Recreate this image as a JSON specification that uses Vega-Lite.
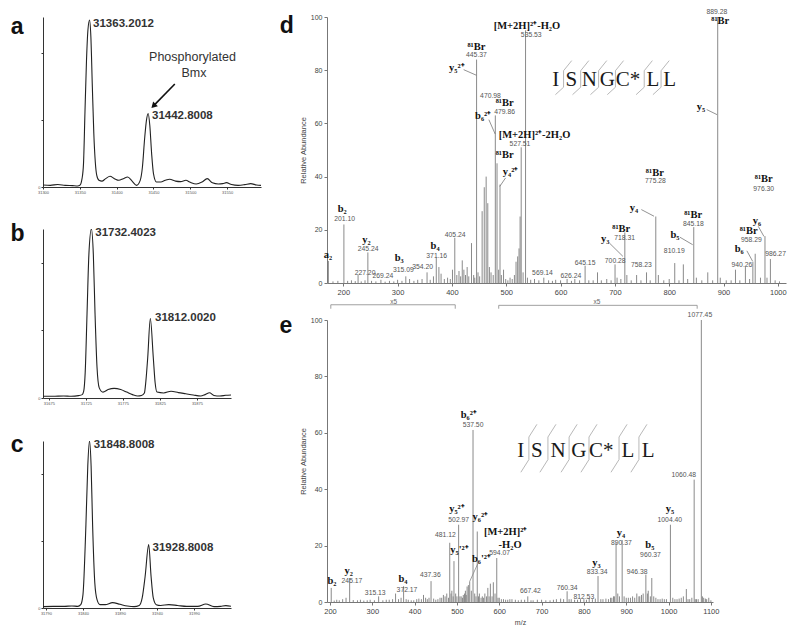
{
"$schema": "https://vega.github.io/schema/vega-lite/v6.json",
"background": "white",
"padding": {"left": 10, "top": 8, "right": 0, "bottom": 0},
"config": {"view": {"stroke": null}, "axis": {"grid": false, "labelFont": "Liberation Sans", "titleFont": "Liberation Sans"}},
"datasets": {
"ca": [{"m":31300,"i":1.2},{"m":31310,"i":1.0},{"m":31320,"i":1.5},{"m":31330,"i":1.0},{"m":31340,"i":0.8},{"m":31347,"i":0.6},{"m":31350,"i":1},{"m":31353,"i":5},{"m":31355,"i":14},{"m":31357,"i":45},{"m":31359,"i":75},{"m":31361,"i":94},{"m":31363.2,"i":100},{"m":31365,"i":90},{"m":31367,"i":60},{"m":31369,"i":32},{"m":31371,"i":15},{"m":31373,"i":7},{"m":31376,"i":4},{"m":31380,"i":3.5},{"m":31385,"i":5},{"m":31391,"i":6.4},{"m":31397,"i":5},{"m":31403,"i":4},{"m":31409,"i":5},{"m":31415,"i":6},{"m":31421,"i":3.5},{"m":31427,"i":1},{"m":31432,"i":4},{"m":31435,"i":12},{"m":31438,"i":29},{"m":31440.5,"i":40},{"m":31442.8,"i":44},{"m":31445,"i":37},{"m":31447.5,"i":20},{"m":31450,"i":8},{"m":31454,"i":3},{"m":31460,"i":3},{"m":31466,"i":4},{"m":31472,"i":4.6},{"m":31480,"i":3.5},{"m":31487,"i":3.2},{"m":31494,"i":4},{"m":31500,"i":2.8},{"m":31508,"i":1.8},{"m":31516,"i":3},{"m":31523,"i":5},{"m":31530,"i":2.5},{"m":31538,"i":1.8},{"m":31544,"i":2},{"m":31549,"i":2.6},{"m":31556,"i":1.5},{"m":31565,"i":1},{"m":31574,"i":1.4},{"m":31582,"i":2},{"m":31590,"i":1.2},{"m":31596,"i":1}],
"cb": [{"m":31667,"i":1},{"m":31680,"i":1},{"m":31695,"i":1.2},{"m":31705,"i":1},{"m":31715,"i":1.4},{"m":31720,"i":2},{"m":31722,"i":4},{"m":31724,"i":15},{"m":31726.5,"i":50},{"m":31729,"i":85},{"m":31732.4,"i":100},{"m":31735,"i":85},{"m":31737.3,"i":50},{"m":31740,"i":18},{"m":31743,"i":6},{"m":31748,"i":3.5},{"m":31755,"i":5},{"m":31763,"i":5.7},{"m":31772,"i":5},{"m":31780,"i":3.5},{"m":31788,"i":2},{"m":31795,"i":1.2},{"m":31800,"i":1.5},{"m":31804,"i":3},{"m":31806,"i":10},{"m":31808.5,"i":24},{"m":31812,"i":47},{"m":31816,"i":24},{"m":31818.5,"i":9},{"m":31821,"i":3.5},{"m":31830,"i":3},{"m":31840,"i":4},{"m":31850,"i":3.2},{"m":31860,"i":2.5},{"m":31870,"i":1.8},{"m":31880,"i":1.2},{"m":31886,"i":2},{"m":31892,"i":3.1},{"m":31898,"i":1.5},{"m":31906,"i":1.2},{"m":31914,"i":1.6},{"m":31921,"i":1.8}],
"cc": [{"m":31786,"i":0.8},{"m":31800,"i":1},{"m":31815,"i":1},{"m":31825,"i":1.2},{"m":31833,"i":1},{"m":31837,"i":2},{"m":31840,"i":8},{"m":31844,"i":50},{"m":31846.5,"i":85},{"m":31848.8,"i":100},{"m":31851,"i":85},{"m":31853,"i":50},{"m":31856,"i":15},{"m":31859,"i":5},{"m":31863,"i":2},{"m":31870,"i":2},{"m":31880,"i":3.2},{"m":31890,"i":2.2},{"m":31900,"i":1.2},{"m":31909,"i":0.8},{"m":31916,"i":1.5},{"m":31920,"i":6},{"m":31924,"i":19},{"m":31928.8,"i":38},{"m":31932,"i":19},{"m":31935,"i":6},{"m":31939,"i":2},{"m":31945,"i":1.5},{"m":31956,"i":2},{"m":31968,"i":1.5},{"m":31980,"i":1},{"m":31995,"i":1},{"m":32006,"i":2.4},{"m":32017,"i":0.8},{"m":32026,"i":1},{"m":32033,"i":1.4},{"m":32040,"i":1}],
"sd": [{"m":172.5,"i":8.3},{"m":181,"i":0.6},{"m":190,"i":0.8},{"m":201.1,"i":22},{"m":208,"i":0.8},{"m":215,"i":1},{"m":222,"i":0.7},{"m":227.2,"i":3},{"m":233,"i":0.6},{"m":240,"i":1},{"m":245.24,"i":11.5},{"m":252,"i":0.8},{"m":260,"i":0.6},{"m":269.24,"i":1.2},{"m":277,"i":0.5},{"m":285,"i":0.8},{"m":293,"i":0.6},{"m":300,"i":1.2},{"m":308,"i":0.8},{"m":315.09,"i":2.5},{"m":322,"i":1.5},{"m":330,"i":0.8},{"m":337,"i":1.2},{"m":345,"i":1.5},{"m":354.2,"i":4},{"m":360,"i":1.2},{"m":366,"i":2.5},{"m":371.16,"i":9.5},{"m":376,"i":6},{"m":380,"i":3.5},{"m":386,"i":1.5},{"m":392,"i":2},{"m":397,"i":1.5},{"m":401,"i":5},{"m":405.24,"i":17},{"m":409,"i":3},{"m":413,"i":4.5},{"m":416,"i":2.5},{"m":419,"i":8.5},{"m":422,"i":5},{"m":425,"i":3},{"m":428,"i":6},{"m":431,"i":2.5},{"m":436,"i":15},{"m":440,"i":3},{"m":442,"i":2},{"m":445.37,"i":84},{"m":448,"i":4},{"m":451,"i":2.5},{"m":455.6,"i":27},{"m":459.5,"i":36},{"m":463,"i":40},{"m":466,"i":30},{"m":469,"i":6},{"m":472,"i":4},{"m":476,"i":3},{"m":479.86,"i":63},{"m":483,"i":45},{"m":486,"i":5},{"m":488.5,"i":37},{"m":491,"i":3},{"m":495,"i":5},{"m":499,"i":1.5},{"m":503,"i":1},{"m":507,"i":2},{"m":511,"i":1.5},{"m":515,"i":3},{"m":518,"i":8},{"m":521,"i":10},{"m":523.5,"i":13},{"m":525.5,"i":25},{"m":527.5,"i":51},{"m":531,"i":4},{"m":535.53,"i":95},{"m":539,"i":2},{"m":545,"i":1.2},{"m":552,"i":1.5},{"m":560,"i":1},{"m":569.14,"i":2},{"m":578,"i":1},{"m":585,"i":0.8},{"m":591,"i":1.2},{"m":600,"i":1},{"m":612,"i":1.5},{"m":620,"i":0.8},{"m":626.24,"i":1.5},{"m":635,"i":1},{"m":645.15,"i":6.5},{"m":652,"i":1},{"m":660,"i":1},{"m":668,"i":4},{"m":675,"i":1},{"m":685,"i":1.5},{"m":693,"i":1},{"m":700.28,"i":7},{"m":704,"i":2},{"m":711,"i":1.5},{"m":718.31,"i":19},{"m":722,"i":3},{"m":730,"i":1},{"m":740,"i":3},{"m":748,"i":1},{"m":758.23,"i":4},{"m":765,"i":1},{"m":775.28,"i":25},{"m":780,"i":3},{"m":790,"i":1},{"m":800,"i":1.5},{"m":810.19,"i":7.5},{"m":818,"i":1},{"m":826,"i":7},{"m":834,"i":1.5},{"m":845.18,"i":21},{"m":850,"i":2},{"m":860,"i":1},{"m":871,"i":4},{"m":880,"i":1},{"m":889.28,"i":100},{"m":894,"i":2},{"m":905,"i":1},{"m":914,"i":1},{"m":922,"i":5},{"m":930,"i":1},{"m":940.26,"i":6},{"m":948,"i":1.5},{"m":954,"i":8},{"m":958.29,"i":11},{"m":968,"i":2},{"m":976.3,"i":17.6},{"m":980,"i":2},{"m":986.27,"i":9},{"m":995,"i":1},{"m":1003,"i":0.6}],
"nd": [{"m":202.5,"i":24.2,"t":"201.10"},{"m":240,"i":3.6,"t":"227.20"},{"m":245.7,"i":12.8,"t":"245.24"},{"m":273,"i":2.5,"t":"269.24"},{"m":310.5,"i":5,"t":"315.09"},{"m":346,"i":6,"t":"354.20"},{"m":372,"i":10.3,"t":"371.16"},{"m":406,"i":18.2,"t":"405.24"},{"m":445.1,"i":85.6,"t":"445.37"},{"m":471,"i":70.4,"t":"470.98"},{"m":496.9,"i":64.3,"t":"479.86"},{"m":525.3,"i":52.3,"t":"527.51"},{"m":546,"i":93.3,"t":"535.53"},{"m":566.7,"i":3.6,"t":"569.14"},{"m":619,"i":2.5,"t":"626.24"},{"m":645,"i":7.5,"t":"645.15"},{"m":700.6,"i":8.4,"t":"700.28"},{"m":717.9,"i":17,"t":"718.31"},{"m":748.7,"i":6.8,"t":"758.23"},{"m":774.7,"i":38.2,"t":"775.28"},{"m":809.3,"i":11.9,"t":"810.19"},{"m":844.4,"i":22.2,"t":"845.18"},{"m":887.6,"i":101.9,"t":"889.28"},{"m":933.9,"i":6.9,"t":"940.26"},{"m":951.2,"i":16.3,"t":"958.29"},{"m":974,"i":35.5,"t":"976.30"},{"m":995.7,"i":11,"t":"986.27"}],
"id": [{"m":171.7,"i":10.6,"t":"a₂"},{"m":198,"i":27.9,"t":"b₂"},{"m":242.6,"i":16.3,"t":"y₂"},{"m":303,"i":9.3,"t":"b₃"},{"m":369,"i":13.8,"t":"b₄"},{"m":445,"i":88.8,"t":"⁸¹Br"},{"m":409,"i":80.8,"t":"y₅²⁺"},{"m":497,"i":67.8,"t":"⁸¹Br"},{"m":457.4,"i":62.7,"t":"b₆²⁺"},{"m":497,"i":48.2,"t":"⁸¹Br"},{"m":508,"i":41.7,"t":"y₄²⁺"},{"m":552,"i":55.8,"t":"[M+2H]²⁺-2H₂O"},{"m":538,"i":96.5,"t":"[M+2H]²⁺-H₂O"},{"m":893.9,"i":98.6,"t":"⁸¹Br"},{"m":858.6,"i":66,"t":"y₅"},{"m":773.5,"i":41.4,"t":"⁸¹Br"},{"m":735.2,"i":28.2,"t":"y₄"},{"m":844,"i":25.4,"t":"⁸¹Br"},{"m":810.5,"i":17.9,"t":"b₅"},{"m":711.7,"i":20.4,"t":"⁸¹Br"},{"m":682,"i":16.7,"t":"y₃"},{"m":946.3,"i":19.6,"t":"⁸¹Br"},{"m":929,"i":12.9,"t":"b₆"},{"m":961.7,"i":23.4,"t":"y₆"},{"m":974,"i":39,"t":"⁸¹Br"}],
"ld": [{"m":421.6,"i":80.2,"m2":445,"i2":78.1},{"m":468,"i":61.4,"m2":479.6,"i2":56},{"m":498.7,"i":39.5,"m2":488,"i2":36.3},{"m":869,"i":65.2,"m2":888,"i2":63.3},{"m":748.7,"i":27.6,"m2":772,"i2":25.1},{"m":690,"i":15,"m2":714.8,"i2":10},{"m":819.8,"i":17.2,"m2":843.2,"i2":14.4},{"m":943,"i":12.1,"m2":953.5,"i2":8.2},{"m":963.9,"i":21.3,"m2":974.4,"i2":17.5}],
"qd": [{"m":591,"i":76.3,"t":"I"},{"m":620,"i":76.3,"t":"S"},{"m":653,"i":76.3,"t":"N"},{"m":686,"i":76.3,"t":"G"},{"m":724,"i":76.3,"t":"C*"},{"m":770,"i":76.3,"t":"L"},{"m":801,"i":76.3,"t":"L"}],
"sepd": [{"m":605.5,"i":73.6,"m2":605.5,"i2":79.8},{"m":605.5,"i":79.8,"m2":620.5,"i2":83.6},{"m":605.5,"i":73.6,"m2":590.5,"i2":70.8},{"m":637,"i":73.6,"m2":637,"i2":79.8},{"m":637,"i":79.8,"m2":652,"i2":83.6},{"m":637,"i":73.6,"m2":622,"i2":70.8},{"m":670,"i":73.6,"m2":670,"i2":79.8},{"m":670,"i":79.8,"m2":685,"i2":83.6},{"m":670,"i":73.6,"m2":655,"i2":70.8},{"m":701,"i":73.6,"m2":701,"i2":79.8},{"m":701,"i":79.8,"m2":716,"i2":83.6},{"m":701,"i":73.6,"m2":686,"i2":70.8},{"m":754,"i":73.6,"m2":754,"i2":79.8},{"m":754,"i":79.8,"m2":769,"i2":83.6},{"m":754,"i":73.6,"m2":739,"i2":70.8},{"m":785,"i":73.6,"m2":785,"i2":79.8},{"m":785,"i":79.8,"m2":800,"i2":83.6},{"m":785,"i":73.6,"m2":770,"i2":70.8}],
"se": [{"m":203,"i":5},{"m":210,"i":0.5},{"m":216,"i":0.8},{"m":222,"i":0.6},{"m":230,"i":1},{"m":238,"i":1.5},{"m":246.5,"i":8.5},{"m":255,"i":0.7},{"m":265,"i":0.6},{"m":272,"i":0.8},{"m":280,"i":0.5},{"m":288,"i":0.6},{"m":295,"i":0.8},{"m":305,"i":0.6},{"m":315,"i":2},{"m":325,"i":0.6},{"m":333,"i":0.8},{"m":340,"i":0.8},{"m":348,"i":1},{"m":355,"i":3},{"m":362,"i":1},{"m":368,"i":1.5},{"m":374,"i":5.6},{"m":380,"i":1},{"m":385,"i":0.8},{"m":392,"i":0.6},{"m":398,"i":0.6},{"m":405,"i":1},{"m":410,"i":1.2},{"m":416,"i":1},{"m":421,"i":2.5},{"m":426,"i":1.5},{"m":430,"i":1},{"m":434,"i":1.5},{"m":438.8,"i":7.4},{"m":445,"i":1.2},{"m":450,"i":0.8},{"m":455,"i":1},{"m":460,"i":1.5},{"m":464,"i":1.5},{"m":468,"i":2.5},{"m":472,"i":2},{"m":476,"i":3},{"m":480,"i":1.5},{"m":483,"i":21},{"m":486,"i":3},{"m":488,"i":4},{"m":491,"i":2},{"m":493,"i":14.5},{"m":497,"i":3},{"m":500,"i":2},{"m":504,"i":27.4},{"m":507,"i":2},{"m":510,"i":2},{"m":513,"i":1.5},{"m":515,"i":2.5},{"m":518,"i":3},{"m":520,"i":4},{"m":522,"i":2.5},{"m":524,"i":5.5},{"m":527,"i":6},{"m":530.2,"i":7.3},{"m":534,"i":4},{"m":538,"i":61},{"m":542,"i":3},{"m":545,"i":2},{"m":548,"i":25},{"m":551,"i":2},{"m":553,"i":3},{"m":557,"i":1.5},{"m":560,"i":2},{"m":563,"i":1.5},{"m":566,"i":3},{"m":570,"i":2},{"m":573,"i":5},{"m":576,"i":2},{"m":579,"i":6.5},{"m":583,"i":2},{"m":586,"i":7},{"m":590,"i":3},{"m":594.07,"i":15.6},{"m":597,"i":1.5},{"m":600,"i":1.5},{"m":605,"i":1},{"m":610,"i":1},{"m":615,"i":0.8},{"m":620,"i":0.8},{"m":625,"i":1},{"m":630,"i":1},{"m":638,"i":0.8},{"m":645,"i":0.6},{"m":652,"i":0.8},{"m":660,"i":0.8},{"m":667.42,"i":2},{"m":675,"i":0.6},{"m":680,"i":0.6},{"m":690,"i":0.8},{"m":700,"i":0.8},{"m":710,"i":0.6},{"m":720,"i":0.6},{"m":728,"i":0.8},{"m":735,"i":1},{"m":745,"i":1.2},{"m":752,"i":1},{"m":760.34,"i":3.8},{"m":765,"i":1},{"m":770,"i":1},{"m":778,"i":0.8},{"m":785,"i":0.8},{"m":792,"i":1},{"m":800,"i":1},{"m":806,"i":0.8},{"m":812.53,"i":1.5},{"m":820,"i":1},{"m":827,"i":1.2},{"m":833.34,"i":9.2},{"m":840,"i":1},{"m":845,"i":1},{"m":852,"i":1.2},{"m":858,"i":1},{"m":863,"i":1.5},{"m":866,"i":1.5},{"m":870,"i":2},{"m":872,"i":2},{"m":876,"i":21},{"m":880,"i":3},{"m":884,"i":2},{"m":890.37,"i":22},{"m":895,"i":2},{"m":900,"i":1.5},{"m":905,"i":1.5},{"m":910,"i":1.5},{"m":915,"i":2},{"m":920,"i":1.5},{"m":925,"i":3},{"m":930,"i":2},{"m":932,"i":2},{"m":936,"i":2.5},{"m":940,"i":3},{"m":946.38,"i":9.7},{"m":950,"i":3},{"m":952,"i":4},{"m":957,"i":2},{"m":960.37,"i":8.5},{"m":965,"i":2},{"m":970,"i":1.5},{"m":975,"i":1},{"m":980,"i":1},{"m":985,"i":1.2},{"m":990,"i":1},{"m":995,"i":1},{"m":1004.4,"i":27.4},{"m":1010,"i":1.5},{"m":1015,"i":1},{"m":1020,"i":1},{"m":1025,"i":1.2},{"m":1030,"i":1.5},{"m":1035,"i":2},{"m":1042,"i":4.6},{"m":1046,"i":1},{"m":1050,"i":1},{"m":1055,"i":1.5},{"m":1060.48,"i":43.4},{"m":1063,"i":1},{"m":1066,"i":1},{"m":1070,"i":1},{"m":1077.45,"i":100},{"m":1080,"i":2},{"m":1083,"i":1.5},{"m":1087,"i":1.2},{"m":1090,"i":1},{"m":1095,"i":1.5},{"m":1100,"i":0.6}],
"ne": [{"m":252,"i":7.6,"t":"245.17"},{"m":307,"i":3.2,"t":"315.13"},{"m":382,"i":4.4,"t":"372.17"},{"m":437,"i":9.5,"t":"437.36"},{"m":472.6,"i":23.9,"t":"481.12"},{"m":504.2,"i":29.2,"t":"502.97"},{"m":538,"i":62.9,"t":"537.50"},{"m":601,"i":17.4,"t":"594.07"},{"m":673.6,"i":3.8,"t":"667.42"},{"m":760.3,"i":5,"t":"760.34"},{"m":799.7,"i":1.8,"t":"812.53"},{"m":831.2,"i":10.6,"t":"833.34"},{"m":888.7,"i":20.9,"t":"890.37"},{"m":925.8,"i":10.6,"t":"946.38"},{"m":957.3,"i":16.8,"t":"960.37"},{"m":1003,"i":29.2,"t":"1004.40"},{"m":1036,"i":45.1,"t":"1060.48"},{"m":1074,"i":101.9,"t":"1077.45"}],
"ie": [{"m":204.7,"i":7.3,"t":"b₂"},{"m":244,"i":11.1,"t":"y₂"},{"m":372.6,"i":8.3,"t":"b₄"},{"m":500,"i":33.1,"t":"y₅²⁺"},{"m":555.3,"i":30,"t":"y₆²⁺"},{"m":615,"i":25,"t":"[M+2H]²⁺"},{"m":625.5,"i":20.3,"t":"-H₂O"},{"m":506,"i":18.3,"t":"y₅'²⁺"},{"m":558,"i":15.4,"t":"b₆'²⁺"},{"m":528,"i":66.4,"t":"b₆²⁺"},{"m":829.6,"i":13.8,"t":"y₃"},{"m":887.6,"i":24.5,"t":"y₄"},{"m":955.8,"i":20.3,"t":"b₅"},{"m":1003,"i":33.1,"t":"y₅"}],
"le": [{"m":549,"i":13.5,"m2":530.2,"i2":7.3},{"m":202,"i":105.4,"m2":496,"i2":105.4},{"m":202,"i":105.4,"m2":202,"i2":104},{"m":496,"i":105.4,"m2":496,"i2":104},{"m":598.7,"i":105.2,"m2":1067.6,"i2":105.2},{"m":598.7,"i":105.2,"m2":598.7,"i2":104},{"m":1067.6,"i":105.2,"m2":1067.6,"i2":104}],
"xe": [{"m":350.6,"i":106.3,"t":"x5"},{"m":831,"i":106.3,"t":"x5"}],
"qe": [{"m":651,"i":53.5,"t":"I"},{"m":689,"i":53.5,"t":"S"},{"m":739,"i":53.5,"t":"N"},{"m":788,"i":53.5,"t":"G"},{"m":841,"i":53.5,"t":"C*"},{"m":904,"i":53.5,"t":"L"},{"m":952,"i":53.5,"t":"L"}],
"sepe": [{"m":670,"i":50.5,"m2":670,"i2":58.5},{"m":670,"i":58.5,"m2":689,"i2":63},{"m":670,"i":50.5,"m2":651,"i2":46},{"m":715,"i":50.5,"m2":715,"i2":58.5},{"m":715,"i":58.5,"m2":734,"i2":63},{"m":715,"i":50.5,"m2":696,"i2":46},{"m":765,"i":50.5,"m2":765,"i2":58.5},{"m":765,"i":58.5,"m2":784,"i2":63},{"m":765,"i":50.5,"m2":746,"i2":46},{"m":812,"i":50.5,"m2":812,"i2":58.5},{"m":812,"i":58.5,"m2":831,"i2":63},{"m":812,"i":50.5,"m2":793,"i2":46},{"m":883,"i":50.5,"m2":883,"i2":58.5},{"m":883,"i":58.5,"m2":902,"i2":63},{"m":883,"i":50.5,"m2":864,"i2":46},{"m":930,"i":50.5,"m2":930,"i2":58.5},{"m":930,"i":58.5,"m2":949,"i2":63},{"m":930,"i":50.5,"m2":911,"i2":46}]
},
"spacing": 18,
"hconcat": [
{"spacing": 29, "vconcat": [
 {"width": 218, "height": 170, "layer": [
  {"data": {"name": "ca"}, "mark": {"type": "line", "interpolate": "monotone", "color": "#222", "strokeWidth": 1.1, "clip": true},
   "encoding": {"x": {"field": "m", "type": "quantitative", "scale": {"domain": [31300, 31596], "nice": false, "zero": false}, "axis": {"title": null, "values": [31300,31325,31350,31375,31400,31425,31450,31475,31500,31525,31550,31575], "format": "d", "labelFontSize": 4, "labelColor": "#555", "tickSize": 2, "labelPadding": 1, "domainColor": "#333", "tickColor": "#333", "labelFlush": false}},
    "y": {"field": "i", "type": "quantitative", "scale": {"domain": [0, 101.8], "nice": false}, "axis": {"title": null, "values": [0,10,20,30,40,50,60,70,80,90,100], "labelExpr": "datum.value==100?'100':datum.value==50?'%':datum.value==0?'0':''", "labelFontSize": 4, "labelColor": "#555", "tickSize": 2, "labelPadding": 1, "domainColor": "#333", "tickColor": "#333", "labelFlush": false}}}},
  {"data": {"values": [{"m": 31368, "i": 97.6, "t": "31363.2012"}, {"m": 31448, "i": 42.5, "t": "31442.8008"}]}, "mark": {"type": "text", "align": "left", "baseline": "middle", "font": "Liberation Sans", "fontWeight": "bold", "fontSize": 11.5, "color": "#333"},
   "encoding": {"x": {"field": "m", "type": "quantitative"}, "y": {"field": "i", "type": "quantitative"}, "text": {"field": "t"}}},
  {"data": {"values": [{"m": 31503, "i": 77.7, "t": "Phosphorylated"}, {"m": 31505, "i": 68.3, "t": "Bmx"}]}, "mark": {"type": "text", "baseline": "middle", "font": "Liberation Sans", "fontSize": 12.5, "color": "#333"},
   "encoding": {"x": {"field": "m", "type": "quantitative"}, "y": {"field": "i", "type": "quantitative"}, "text": {"field": "t"}}},
  {"data": {"values": [{"m": 31479, "i": 61.7, "m2": 31452, "i2": 49.5}]}, "mark": {"type": "rule", "color": "#111", "strokeWidth": 1.6},
   "encoding": {"x": {"field": "m", "type": "quantitative"}, "y": {"field": "i", "type": "quantitative"}, "x2": {"field": "m2"}, "y2": {"field": "i2"}}},
  {"data": {"values": [{"m": 31450, "i": 48.5}]}, "mark": {"type": "point", "shape": "triangle-up", "filled": true, "color": "#111", "size": 45, "angle": 225, "opacity": 1},
   "encoding": {"x": {"field": "m", "type": "quantitative"}, "y": {"field": "i", "type": "quantitative"}}},
  {"data": {"values": [{"m": 31265, "i": 95.8, "t": "a"}]}, "mark": {"type": "text", "baseline": "middle", "font": "Liberation Sans", "fontWeight": "bold", "fontSize": 23, "color": "#111"},
   "encoding": {"x": {"field": "m", "type": "quantitative"}, "y": {"field": "i", "type": "quantitative"}, "text": {"field": "t"}}}
 ]},
 {"width": 188, "height": 169, "layer": [
  {"data": {"name": "cb"}, "mark": {"type": "line", "interpolate": "monotone", "color": "#222", "strokeWidth": 1.1, "clip": true},
   "encoding": {"x": {"field": "m", "type": "quantitative", "scale": {"domain": [31667, 31921], "nice": false, "zero": false}, "axis": {"title": null, "values": [31675,31700,31725,31750,31775,31800,31825,31850,31875,31900], "format": "d", "labelFontSize": 4, "labelColor": "#555", "tickSize": 2, "labelPadding": 1, "domainColor": "#333", "tickColor": "#333", "labelFlush": false}},
    "y": {"field": "i", "type": "quantitative", "scale": {"domain": [0, 100], "nice": false}, "axis": {"title": null, "values": [0,10,20,30,40,50,60,70,80,90,100], "labelExpr": "datum.value==100?'100':datum.value==50?'%':datum.value==0?'0':''", "labelFontSize": 4, "labelColor": "#555", "tickSize": 2, "labelPadding": 1, "domainColor": "#333", "tickColor": "#333", "labelFlush": false}}}},
  {"data": {"values": [{"m": 31737.6, "i": 97.8, "t": "31732.4023"}, {"m": 31818.4, "i": 47.5, "t": "31812.0020"}]}, "mark": {"type": "text", "align": "left", "baseline": "middle", "font": "Liberation Sans", "fontWeight": "bold", "fontSize": 11.5, "color": "#333"},
   "encoding": {"x": {"field": "m", "type": "quantitative"}, "y": {"field": "i", "type": "quantitative"}, "text": {"field": "t"}}},
  {"data": {"values": [{"m": 31632.5, "i": 97, "t": "b"}]}, "mark": {"type": "text", "baseline": "middle", "font": "Liberation Sans", "fontWeight": "bold", "fontSize": 23, "color": "#111"},
   "encoding": {"x": {"field": "m", "type": "quantitative"}, "y": {"field": "i", "type": "quantitative"}, "text": {"field": "t"}}}
 ]},
 {"width": 188, "height": 167, "layer": [
  {"data": {"name": "cc"}, "mark": {"type": "line", "interpolate": "monotone", "color": "#222", "strokeWidth": 1.1, "clip": true},
   "encoding": {"x": {"field": "m", "type": "quantitative", "scale": {"domain": [31786, 32040], "nice": false, "zero": false}, "axis": {"title": null, "values": [31790,31815,31840,31865,31890,31915,31940,31965,31990,32015], "format": "d", "labelFontSize": 4, "labelColor": "#555", "tickSize": 2, "labelPadding": 1, "domainColor": "#333", "tickColor": "#333", "labelFlush": false}},
    "y": {"field": "i", "type": "quantitative", "scale": {"domain": [0, 100], "nice": false}, "axis": {"title": null, "values": [0,10,20,30,40,50,60,70,80,90,100], "labelExpr": "datum.value==100?'100':datum.value==50?'%':datum.value==0?'0':''", "labelFontSize": 4, "labelColor": "#555", "tickSize": 2, "labelPadding": 1, "domainColor": "#333", "tickColor": "#333", "labelFlush": false}}}},
  {"data": {"values": [{"m": 31854.5, "i": 97.6, "t": "31848.8008"}, {"m": 31934, "i": 36, "t": "31928.8008"}]}, "mark": {"type": "text", "align": "left", "baseline": "middle", "font": "Liberation Sans", "fontWeight": "bold", "fontSize": 11.5, "color": "#333"},
   "encoding": {"x": {"field": "m", "type": "quantitative"}, "y": {"field": "i", "type": "quantitative"}, "text": {"field": "t"}}},
  {"data": {"values": [{"m": 31751, "i": 97.6, "t": "c"}]}, "mark": {"type": "text", "baseline": "middle", "font": "Liberation Sans", "fontWeight": "bold", "fontSize": 23, "color": "#111"},
   "encoding": {"x": {"field": "m", "type": "quantitative"}, "y": {"field": "i", "type": "quantitative"}, "text": {"field": "t"}}}
 ]}
]},
{"spacing": 3, "vconcat": [
 {"width": 459, "height": 266, "layer": [
  {"data": {"name": "sd"}, "mark": {"type": "rule", "color": "#8a8a8a", "strokeWidth": 1},
   "encoding": {"x": {"field": "m", "type": "quantitative", "scale": {"domain": [170, 1015], "nice": false, "zero": false}, "axis": {"title": null, "values": [200,300,400,500,600,700,800,900,1000], "format": "d", "labelFontSize": 7.5, "labelColor": "#444", "tickSize": 3, "tickColor": "#777", "domainColor": "#777", "labelFlush": false, "labelPadding": 2}},
    "y": {"field": "i", "type": "quantitative", "scale": {"domain": [0, 100], "nice": false}, "axis": {"title": "Relative Abundance", "titleFontSize": 7.5, "titleFontWeight": "normal", "titleColor": "#444", "titlePadding": 3, "values": [0,5,10,15,20,25,30,35,40,45,50,55,60,65,70,75,80,85,90,95,100], "labelFontSize": 7, "labelColor": "#444", "tickSize": 3, "tickColor": "#777", "domainColor": "#777", "labelFlush": false, "labelPadding": 2}},
    "y2": {"datum": 0}}},
  {"data": {"name": "ld"}, "mark": {"type": "rule", "color": "#777", "strokeWidth": 0.8},
   "encoding": {"x": {"field": "m", "type": "quantitative"}, "y": {"field": "i", "type": "quantitative"}, "x2": {"field": "m2"}, "y2": {"field": "i2"}}},
  {"data": {"name": "sepd"}, "mark": {"type": "rule", "color": "#999", "strokeWidth": 0.7},
   "encoding": {"x": {"field": "m", "type": "quantitative"}, "y": {"field": "i", "type": "quantitative"}, "x2": {"field": "m2"}, "y2": {"field": "i2"}}},
  {"data": {"name": "nd"}, "mark": {"type": "text", "baseline": "middle", "font": "Liberation Sans", "fontSize": 6.8, "color": "#555"},
   "encoding": {"x": {"field": "m", "type": "quantitative"}, "y": {"field": "i", "type": "quantitative"}, "text": {"field": "t"}}},
  {"data": {"name": "id"}, "mark": {"type": "text", "baseline": "middle", "font": "Liberation Serif", "fontSize": 10.5, "fontWeight": "bold", "color": "#111"},
   "encoding": {"x": {"field": "m", "type": "quantitative"}, "y": {"field": "i", "type": "quantitative"}, "text": {"field": "t"}}},
  {"data": {"name": "qd"}, "mark": {"type": "text", "baseline": "middle", "font": "Liberation Serif", "fontSize": 21, "color": "#1a1a1a"},
   "encoding": {"x": {"field": "m", "type": "quantitative"}, "y": {"field": "i", "type": "quantitative"}, "text": {"field": "t"}}},
  {"data": {"values": [{"m": 96, "i": 96.6, "t": "d"}]}, "mark": {"type": "text", "baseline": "middle", "font": "Liberation Sans", "fontWeight": "bold", "fontSize": 23, "color": "#111"},
   "encoding": {"x": {"field": "m", "type": "quantitative"}, "y": {"field": "i", "type": "quantitative"}, "text": {"field": "t"}}}
 ]},
 {"width": 386, "height": 282, "layer": [
  {"data": {"name": "se"}, "mark": {"type": "rule", "color": "#8a8a8a", "strokeWidth": 1},
   "encoding": {"x": {"field": "m", "type": "quantitative", "scale": {"domain": [193, 1105], "nice": false, "zero": false}, "axis": {"title": "m/z", "titleFontSize": 7, "titleFontWeight": "normal", "titleColor": "#444", "titlePadding": 4, "values": [200,300,400,500,600,700,800,900,1000,1100], "format": "d", "labelFontSize": 7.5, "labelColor": "#444", "tickSize": 3, "tickColor": "#777", "domainColor": "#777", "labelFlush": false, "labelPadding": 2}},
    "y": {"field": "i", "type": "quantitative", "scale": {"domain": [0, 100], "nice": false}, "axis": {"title": "Relative Abundance", "titleFontSize": 7.5, "titleFontWeight": "normal", "titleColor": "#444", "titlePadding": 3, "values": [0,5,10,15,20,25,30,35,40,45,50,55,60,65,70,75,80,85,90,95,100], "labelFontSize": 7, "labelColor": "#444", "tickSize": 3, "tickColor": "#777", "domainColor": "#777", "labelFlush": false, "labelPadding": 2}},
    "y2": {"datum": 0}}},
  {"data": {"name": "le"}, "mark": {"type": "rule", "color": "#888", "strokeWidth": 0.8},
   "encoding": {"x": {"field": "m", "type": "quantitative"}, "y": {"field": "i", "type": "quantitative"}, "x2": {"field": "m2"}, "y2": {"field": "i2"}}},
  {"data": {"name": "sepe"}, "mark": {"type": "rule", "color": "#999", "strokeWidth": 0.7},
   "encoding": {"x": {"field": "m", "type": "quantitative"}, "y": {"field": "i", "type": "quantitative"}, "x2": {"field": "m2"}, "y2": {"field": "i2"}}},
  {"data": {"name": "ne"}, "mark": {"type": "text", "baseline": "middle", "font": "Liberation Sans", "fontSize": 6.8, "color": "#555"},
   "encoding": {"x": {"field": "m", "type": "quantitative"}, "y": {"field": "i", "type": "quantitative"}, "text": {"field": "t"}}},
  {"data": {"name": "xe"}, "mark": {"type": "text", "baseline": "middle", "font": "Liberation Sans", "fontSize": 6.5, "color": "#666"},
   "encoding": {"x": {"field": "m", "type": "quantitative"}, "y": {"field": "i", "type": "quantitative"}, "text": {"field": "t"}}},
  {"data": {"name": "ie"}, "mark": {"type": "text", "baseline": "middle", "font": "Liberation Serif", "fontSize": 10.5, "fontWeight": "bold", "color": "#111"},
   "encoding": {"x": {"field": "m", "type": "quantitative"}, "y": {"field": "i", "type": "quantitative"}, "text": {"field": "t"}}},
  {"data": {"name": "qe"}, "mark": {"type": "text", "baseline": "middle", "font": "Liberation Serif", "fontSize": 21, "color": "#1a1a1a"},
   "encoding": {"x": {"field": "m", "type": "quantitative"}, "y": {"field": "i", "type": "quantitative"}, "text": {"field": "t"}}},
  {"data": {"values": [{"m": 96, "i": 97.9, "t": "e"}]}, "mark": {"type": "text", "baseline": "middle", "font": "Liberation Sans", "fontWeight": "bold", "fontSize": 23, "color": "#111"},
   "encoding": {"x": {"field": "m", "type": "quantitative"}, "y": {"field": "i", "type": "quantitative"}, "text": {"field": "t"}}}
 ]}
]}
]
}
